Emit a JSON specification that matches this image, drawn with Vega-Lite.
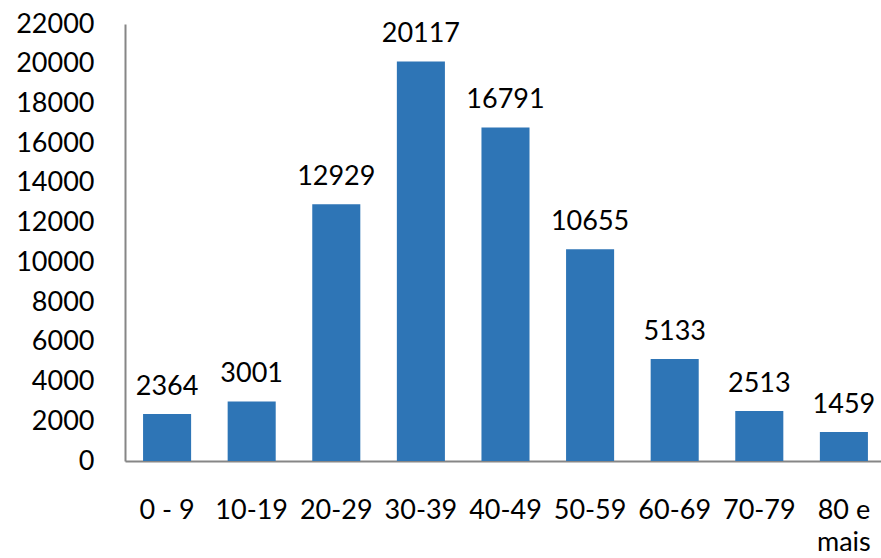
{
  "$schema": "https://vega.github.io/schema/vega-lite/v6.json",
  "autosize": "none",
  "padding": {"left": 125, "top": 24, "right": 0, "bottom": 97},
  "width": 756,
  "height": 437,
  "background": "white",
  "config": {"view": {"stroke": null}, "font": "Lato"},
  "data": {"values": [
    {"faixa": "0 - 9", "casos": 2364},
    {"faixa": "10-19", "casos": 3001},
    {"faixa": "20-29", "casos": 12929},
    {"faixa": "30-39", "casos": 20117},
    {"faixa": "40-49", "casos": 16791},
    {"faixa": "50-59", "casos": 10655},
    {"faixa": "60-69", "casos": 5133},
    {"faixa": "70-79", "casos": 2513},
    {"faixa": "80 e mais", "casos": 1459}
  ]},
  "encoding": {
    "x": {"field": "faixa", "type": "nominal", "sort": null,
      "scale": {"paddingInner": 0.432, "paddingOuter": 0.184, "align": 0.58},
      "axis": {"title": null, "labelAngle": 0, "ticks": false, "domainColor": "#868686", "domainWidth": 2,
        "labelFont": "Lato", "labelFontSize": 27, "labelColor": "#000", "labelPadding": 49, "labelLineHeight": 32,
        "labelBaseline": "middle",
        "labelExpr": "datum.value == '80 e mais' ? ['80 e', 'mais'] : datum.value"}},
    "y": {"field": "casos", "type": "quantitative",
      "scale": {"domain": [0, 22000]},
      "axis": {"title": null, "values": [0,2000,4000,6000,8000,10000,12000,14000,16000,18000,20000,22000],
        "format": "d", "grid": false, "ticks": false, "domainColor": "#868686", "domainWidth": 2,
        "labelFont": "Lato", "labelFontSize": 27, "labelColor": "#000", "labelPadding": 31}}
  },
  "layer": [
    {"mark": {"type": "bar", "color": "#2E75B6"}},
    {"mark": {"type": "text", "font": "Lato", "fontSize": 27, "color": "#000", "baseline": "alphabetic", "dy": -19},
      "encoding": {"text": {"field": "casos", "type": "quantitative", "format": "d"}}}
  ]
}
